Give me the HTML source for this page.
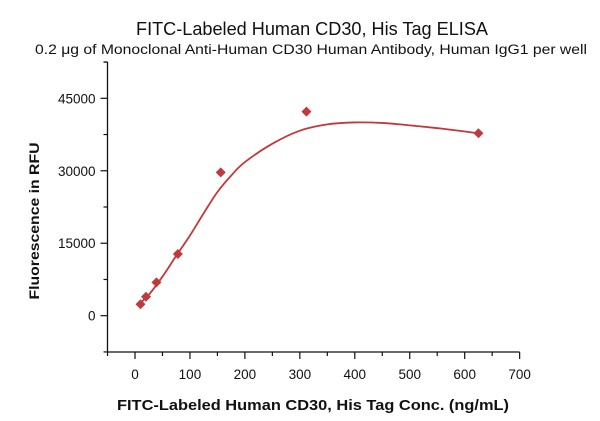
<!DOCTYPE html>
<html><head><meta charset="utf-8"><style>
body{margin:0;background:#fff;}
svg{display:block;font-family:"Liberation Sans",sans-serif;}
</style></head><body>
<svg id="chart" width="600" height="421">
<text x="312" y="35" font-size="18" text-anchor="middle" fill="#111" textLength="352" lengthAdjust="spacingAndGlyphs">FITC-Labeled Human CD30, His Tag ELISA</text>
<text x="311" y="54" font-size="13.5" text-anchor="middle" fill="#111" textLength="552" lengthAdjust="spacingAndGlyphs">0.2 μg of Monoclonal Anti-Human CD30 Human Antibody, Human IgG1 per well</text>
<text x="313" y="410" font-size="15" font-weight="bold" text-anchor="middle" fill="#111" textLength="392" lengthAdjust="spacingAndGlyphs">FITC-Labeled Human CD30, His Tag Conc. (ng/mL)</text>
<text transform="translate(39,221) rotate(-90)" font-size="14" font-weight="bold" text-anchor="middle" fill="#111" textLength="157" lengthAdjust="spacingAndGlyphs">Fluorescence in RFU</text>
<g id="axes"></g>
<g id="marks"></g>
</svg>
<script>
const xTicks=[0,100,200,300,400,500,600,700];
const yTicks=[0,15000,30000,45000];
const concentrations=[10,20,39,78,156,312,625];
const rfu=[2360,3930,6900,12770,29680,42230,37760];
const fitX=[10,25,50,75,100,125,150,175,200,250,300,350,400,450,500,560,625];
const fitY=[2700,4300,8100,12400,16600,21200,25600,29000,31800,35600,38300,39600,40000,39900,39400,38700,37760];

const X0=135,XS=54.95/100, Y0=315.7, YS=217.4/45000;
const xs=v=>X0+v*XS, ys=v=>Y0-v*YS;
const NS='http://www.w3.org/2000/svg';
const axes=document.getElementById('axes'), marks=document.getElementById('marks');
function mk(tag,attrs,parent){const e=document.createElementNS(NS,tag);for(const k in attrs)e.setAttribute(k,attrs[k]);parent.appendChild(e);return e;}
const AX=107.5, AY=352;
let l=mk('line',{x1:AX,y1:62,x2:AX,y2:AY,stroke:'#111','stroke-width':1.3},axes);


l=mk('line',{x1:AX,y1:AY,x2:xs(700),y2:AY,stroke:'#111','stroke-width':1.3},axes);


mk('line',{x1:AX-4,y1:62,x2:AX,y2:62,stroke:'#111','stroke-width':1.2},axes);
for(let v=-7500;v<=52500;v+=7500){
  const major=yTicks.includes(v);
  mk('line',{x1:AX-(major?7:4),y1:ys(v),x2:AX,y2:ys(v),stroke:'#111','stroke-width':1.2},axes);
}
yTicks.forEach(v=>{const t=mk('text',{x:AX-12,y:ys(v)+5,'font-size':13.5,'text-anchor':'end',fill:'#111'},axes);t.textContent=v;

});
for(let v=-50;v<=700;v+=50){
  const major=xTicks.includes(v);
  mk('line',{x1:xs(v),y1:AY,x2:xs(v),y2:AY+(major?7:4),stroke:'#111','stroke-width':1.2},axes);
}
xTicks.forEach(v=>{const t=mk('text',{x:xs(v),y:AY+27,'font-size':13.5,'text-anchor':'middle',fill:'#111'},axes);t.textContent=v;

});
const P=fitX.map((x,i)=>[xs(x),ys(fitY[i])]);
let d='M'+P[0][0]+','+P[0][1];
for(let i=0;i<P.length-1;i++){
  const p0=P[Math.max(0,i-1)],p1=P[i],p2=P[i+1],p3=P[Math.min(P.length-1,i+2)];
  const c1=[p1[0]+(p2[0]-p0[0])/6,p1[1]+(p2[1]-p0[1])/6];
  const c2=[p2[0]-(p3[0]-p1[0])/6,p2[1]-(p3[1]-p1[1])/6];
  d+=' C'+c1+' '+c2+' '+p2;
}
const path=mk('path',{d:d,fill:'none',stroke:'#c0393b','stroke-width':1.8},marks);


concentrations.forEach((c,i)=>{
  const x=xs(c),y=ys(rfu[i]);
  const p=mk('polygon',{points:`${x},${y-5} ${x+5},${y} ${x},${y+5} ${x-5},${y}`,fill:'#c0393b'},marks);
  
  
});
</script>
</body></html>
